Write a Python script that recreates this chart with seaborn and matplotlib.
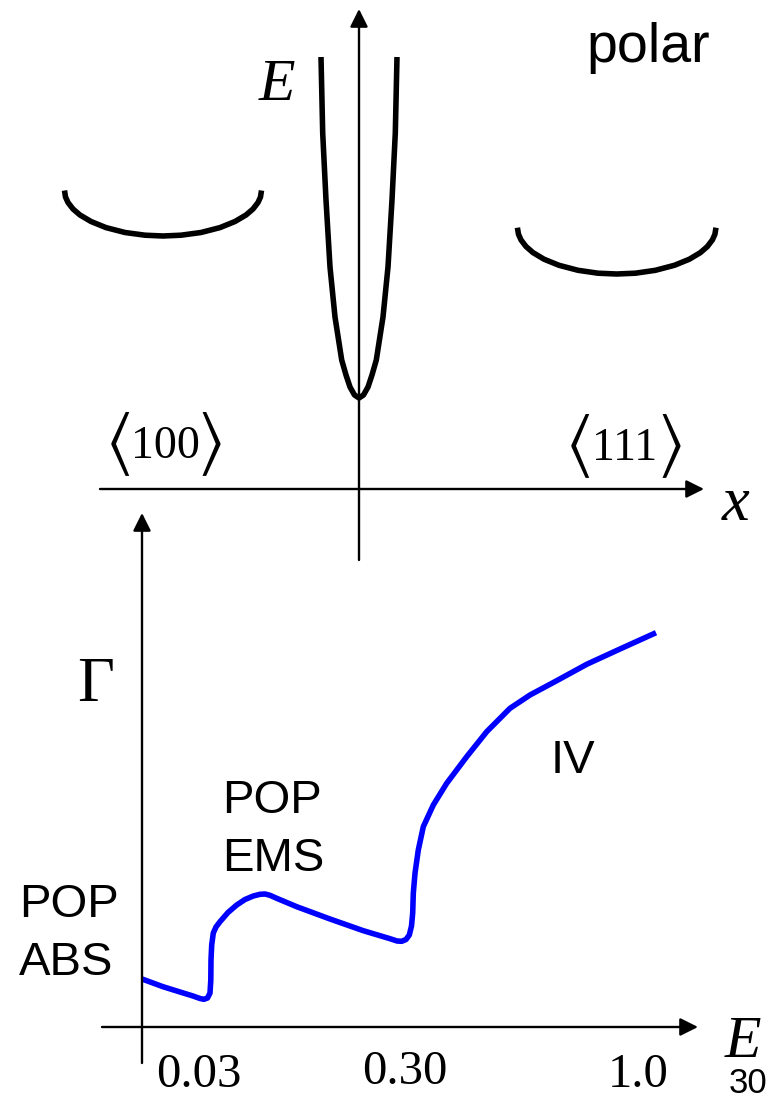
import matplotlib
matplotlib.use("Agg")
import matplotlib.pyplot as plt
import pandas as pd
import seaborn as sns

# ---- band structure sketch (k offset from zone centre, energy above the k axis) ----
gamma_k = [-38, -36.3, -33, -29, -24, -17.3, -13, -9, -4.5, 0,
           4.5, 9, 13, 17.3, 24, 29, 33, 36.3, 38]
gamma_e = [432, 356, 289, 222, 172, 129, 114, 102, 94, 91,
           94, 102, 114, 129, 172, 222, 289, 356, 432]

x_valley_k = [-294.5, -293.5, -291, -286, -279, -268, -253, -234, -214, -196,
              -178, -158, -139, -124, -113, -106, -101, -98.5, -97.5]
x_valley_e = [298.5, 292, 286.5, 280, 274, 267.5, 261.4, 256.5, 253.8, 253,
              253.8, 256.5, 261.4, 267.5, 274, 280, 286.5, 292, 298.5]

l_valley_k = [158.4, 159.5, 162, 167, 174, 185, 200, 219, 239, 257.7,
              276.4, 296.4, 315.4, 330.4, 341.4, 348.4, 353.4, 355.9, 357]
l_valley_e = [261.3, 254.7, 249.1, 242.5, 236.4, 229.8, 223.7, 218.7, 215.8, 215,
              215.8, 218.7, 223.7, 229.8, 236.4, 242.5, 249.1, 254.7, 261.3]

direction_indices = ["100", "111"]

# ---- scattering rate versus energy ----
rate_energy = [0, 21, 38, 51, 58, 62, 65.5, 68, 68.8, 69, 69.7, 71.3, 74, 78, 86,
               94.7, 103, 111.3, 118, 123, 128, 134.7, 154.7, 188, 221.3, 248,
               255, 259.7, 264, 267.3, 269.5, 270.7, 271.3, 273, 276.3, 281.3,
               291.3, 304.7, 324.7, 344.7, 368, 388, 414.7, 444.7, 478, 514]
rate_gamma = [48, 40.3, 35, 31, 28.5, 27.7, 29, 34, 47, 67, 82, 94, 100, 105.3,
              114.5, 122, 127.5, 131, 132.7, 133, 131.7, 128.7, 120.3, 108, 96.3,
              88.3, 86, 85.7, 87.5, 92, 101, 114, 133.7, 153.7, 177, 200.3, 222,
              243.7, 270.3, 295.3, 318.7, 332, 346.3, 362.7, 378, 394.3]

energy_tick_labels = ["0.03", "0.30", "1.0"]
mechanism_labels = [("POP", "ABS"), ("POP", "EMS"), ("IV",)]

sns.set_style("white")
plt.rcParams["text.color"] = "black"
SANS = ["Liberation Sans", "DejaVu Sans"]
SERIF = ["Liberation Serif", "DejaVu Serif"]
BRACKET = ["STIXGeneral", "DejaVu Serif"]

W, H = 780, 1099
fig = plt.figure(figsize=(W / 100, H / 100), dpi=100)

# two overlaid axes sharing the same pixel scale, each with its own origin
ax_top = fig.add_axes([0, 0, 1, 1])
ax_top.set_xlim(-359, W - 359)
ax_top.set_ylim(489 - H, 489)
ax_top.axis("off")

ax_bot = fig.add_axes([0, 0, 1, 1])
ax_bot.set_xlim(-142, W - 142)
ax_bot.set_ylim(1027 - H, 1027)
ax_bot.axis("off")
ax_bot.patch.set_alpha(0)

arrow_kw = dict(arrowstyle="-|>,head_length=0.4,head_width=0.2",
                color="black", lw=1.7, mutation_scale=27,
                shrinkA=0, shrinkB=0)


def axis_arrow(ax, start, tip):
    ax.annotate("", xy=tip, xytext=start, arrowprops=arrow_kw)


# ---------------- top: conduction band valleys ----------------
axis_arrow(ax_top, (0, -71), (0, 480))
axis_arrow(ax_top, (-259, 0), (345, 0))

valleys = pd.concat([
    pd.DataFrame({"k": gamma_k, "E": gamma_e, "valley": "Gamma"}),
    pd.DataFrame({"k": x_valley_k, "E": x_valley_e, "valley": "X"}),
    pd.DataFrame({"k": l_valley_k, "E": l_valley_e, "valley": "L"}),
])
sns.lineplot(data=valleys, x="k", y="E", units="valley", estimator=None,
             sort=False, color="black", lw=4.0, ax=ax_top, legend=False,
             solid_capstyle="butt", solid_joinstyle="round")

ax_top.text(289, 427, "polar", family=SANS, fontsize=40,
            ha="center", va="baseline")
ax_top.text(-82, 389, "E", family=SERIF, style="italic", fontsize=43,
            ha="center", va="baseline")
ax_top.text(377, -31, "x", family=SERIF, style="italic", fontsize=45,
            ha="center", va="baseline")

# crystal directions: index digits flanked by tall angle brackets
for idx, xc, base in zip(direction_indices, [-194, 266], [31, 29]):
    ax_top.text(xc, base, idx, family=SERIF, fontsize=33,
                ha="center", va="baseline")
    ax_top.text(xc - 32, base + 15, "\u27e8", family=BRACKET, fontsize=50,
                ha="right", va="center")
    ax_top.text(xc + 32, base + 15, "\u27e9", family=BRACKET, fontsize=50,
                ha="left", va="center")

# ---------------- bottom: scattering rate ----------------
axis_arrow(ax_bot, (0, -36), (0, 514))
axis_arrow(ax_bot, (-40, 0), (556, 0))

rate = pd.DataFrame({"E": rate_energy, "Gamma": rate_gamma})
sns.lineplot(data=rate, x="E", y="Gamma", estimator=None, sort=False,
             color="#0000ff", lw=4.0, ax=ax_bot, solid_capstyle="butt",
             solid_joinstyle="round")

ax_bot.text(-46, 326, "Γ", family=SERIF, fontsize=46,
            ha="center", va="baseline")
ax_bot.text(601, -30, "E", family=SERIF, style="italic", fontsize=43,
            ha="center", va="baseline")
ax_bot.text(606, -66, "30", family=SANS, fontsize=25,
            ha="center", va="baseline")

for label, xpos, ypos in zip(energy_tick_labels, [57, 263, 496], [-60, -57, -60]):
    ax_bot.text(xpos, ypos, label, family=SERIF, fontsize=35,
                ha="center", va="baseline")

for lines, (xpos, ypos), ha in zip(mechanism_labels,
                                   [(-123, 110), (80, 214), (431, 254)],
                                   ["left", "left", "center"]):
    for i, line in enumerate(lines):
        ax_bot.text(xpos, ypos - 58 * i, line, family=SANS, fontsize=34,
                    ha=ha, va="baseline")

fig.savefig("out.png", dpi=100)
